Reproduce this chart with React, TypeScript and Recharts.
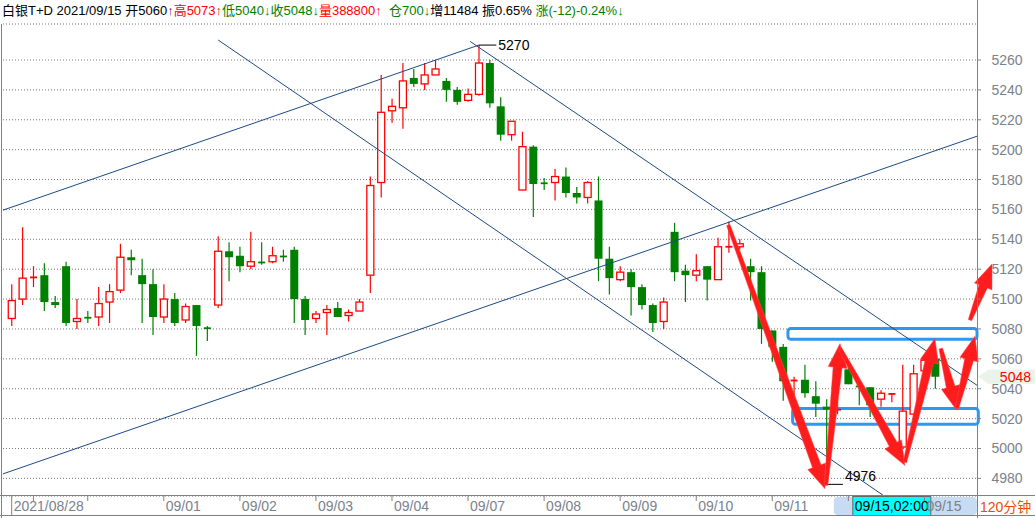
import React from 'react';
import { ComposedChart, Bar, XAxis, YAxis, CartesianGrid, ReferenceLine, ReferenceArea } from 'recharts';

// 120-minute bars, 白银T+D
const opens = [5087, 5100, 5114, 5116, 5098, 5122, 5085, 5088, 5088, 5098, 5106, 5128, 5116, 5110, 5088, 5100, 5086, 5096, 5081, 5096, 5132, 5129, 5122, 5125, 5125, 5129, 5133, 5100, 5087, 5091, 5094, 5089, 5092, 5116, 5178, 5226, 5228, 5248, 5244, 5250, 5246, 5240, 5233, 5237, 5258, 5229, 5210, 5173, 5202, 5178, 5178, 5182, 5171, 5168, 5166, 5127, 5113, 5118, 5108, 5096, 5085, 5145, 5119, 5116, 5122, 5113, 5135, 5135, 5122, 5118, 5079, 5068, 5045, 5046, 5035, 5028, 5026, 5053, 5042, 5041, 5033, 5036, 5001, 5023, 5052, 5060];
const highs = [5110, 5148, 5122, 5124, 5102, 5125, 5100, 5092, 5108, 5110, 5137, 5133, 5127, 5120, 5110, 5104, 5097, 5096, 5082, 5142, 5138, 5135, 5145, 5138, 5135, 5133, 5135, 5102, 5092, 5096, 5098, 5093, 5100, 5182, 5250, 5234, 5258, 5254, 5258, 5260, 5248, 5242, 5241, 5270, 5260, 5235, 5219, 5212, 5203, 5181, 5187, 5188, 5175, 5179, 5182, 5135, 5122, 5120, 5110, 5097, 5101, 5151, 5123, 5130, 5122, 5141, 5152, 5140, 5127, 5122, 5079, 5070, 5048, 5056, 5045, 5033, 5032, 5059, 5042, 5041, 5039, 5037, 5056, 5056, 5061, 5064];
const lows = [5082, 5096, 5108, 5092, 5094, 5082, 5080, 5084, 5082, 5084, 5104, 5116, 5084, 5076, 5084, 5082, 5084, 5062, 5072, 5094, 5112, 5118, 5120, 5123, 5124, 5125, 5084, 5076, 5084, 5076, 5088, 5085, 5092, 5104, 5168, 5218, 5214, 5242, 5240, 5250, 5232, 5230, 5232, 5236, 5228, 5206, 5206, 5173, 5155, 5173, 5166, 5168, 5164, 5164, 5112, 5103, 5112, 5089, 5093, 5078, 5080, 5112, 5098, 5112, 5099, 5113, 5131, 5133, 5099, 5070, 5058, 5032, 5032, 5034, 5021, 4976, 5023, 5043, 5029, 5021, 5028, 5031, 5000, 5020, 5052, 5040];
const closes = [5099, 5114, 5115, 5098, 5096, 5084, 5087, 5087, 5097, 5105, 5128, 5126, 5110, 5088, 5100, 5084, 5095, 5082, 5080, 5132, 5128, 5122, 5125, 5124, 5129, 5128, 5100, 5086, 5090, 5093, 5088, 5091, 5098, 5176, 5225, 5229, 5246, 5244, 5250, 5254, 5240, 5232, 5237, 5258, 5231, 5210, 5219, 5202, 5177, 5177, 5182, 5171, 5168, 5178, 5127, 5114, 5118, 5108, 5096, 5084, 5098, 5118, 5116, 5119, 5113, 5135, 5135, 5137, 5118, 5080, 5068, 5045, 5046, 5037, 5030, 5026, 5026, 5043, 5041, 5029, 5037, 5037, 5025, 5050, 5059, 5048];

const dayTicks = [0, 2, 7, 14, 21, 28, 35, 42, 49, 56, 63, 70, 77, 84];
const dayLabels = ['2021/08/28', '', '', '09/01', '09/02', '09/03', '09/04', '09/07', '09/08', '09/09', '09/10', '09/11', '', '09/15'];
const priceTicks = [4980, 5000, 5020, 5040, 5060, 5080, 5100, 5120, 5140, 5160, 5180, 5200, 5220, 5240, 5260];

// hand-drawn annotations, in (bar index, price)
const trendLines = [
  [{ x: -0.8, y: 5159.5 }, { x: 43, y: 5270 }],
  [{ x: -0.8, y: 4983 }, { x: 88.84, y: 5209 }],
  [{ x: 42.2, y: 5272.4 }, { x: 88.84, y: 5042.3 }],
  [{ x: 19, y: 5273.4 }, { x: 80.3, y: 4968.2 }],
];
const arrows = [
  [{ x: 65.95, y: 5149.5 }, { x: 74.85, y: 4973 }],
  [{ x: 74.94, y: 4975.3 }, { x: 76.23, y: 5070.2 }],
  [{ x: 76.23, y: 5067 }, { x: 82.2, y: 4988.7 }],
  [{ x: 82.2, y: 4990.7 }, { x: 84.97, y: 5073.6 }],
  [{ x: 85.5, y: 5066.9 }, { x: 86.97, y: 5025.6 }],
  [{ x: 86.99, y: 5026.9 }, { x: 88.65, y: 5075.1 }],
  [{ x: 88.19, y: 5085.9 }, { x: 90.22, y: 5123.4 }],
];
const boxes = [
  { x1: 71.44, x2: 88.84, y1: 5073.1, y2: 5080.3 },
  { x1: 71.87, x2: 88.96, y1: 5016.2, y2: 5026.7 },
];

const data = opens.map((o, i) => ({ i, o, h: highs[i], l: lows[i], c: closes[i] }));

const FONT = 'Arial, "Liberation Sans", "Noto Sans CJK SC", sans-serif';
const RED = '#ff0000';
const GREEN = '#008000';
const AXIS_GRAY = '#808080';
const LABEL_GRAY = '#7a828c';

const Candle = (props: any) => {
  const { x, y, width, height, payload } = props;
  if (x == null || y == null || !payload) return null;
  const { o, h, l, c } = payload;
  const top = Math.min(y, y + height);
  const bot = Math.max(y, y + height);
  const span = h - l || 1;
  const py = (v: number) => top + ((h - v) / span) * (bot - top);
  const cx = x + width / 2;
  const up = c >= o;
  const color = up ? RED : GREEN;
  const bt = py(Math.max(o, c));
  const bb = py(Math.min(o, c));
  const bw = 7;
  if (bb - bt < 1.5) {
    return (
      <g>
        <line x1={cx} x2={cx} y1={py(h)} y2={py(l)} stroke={color} strokeWidth={1.2} />
        <line x1={cx - bw / 2} x2={cx + bw / 2} y1={(bt + bb) / 2} y2={(bt + bb) / 2} stroke={color} strokeWidth={1.8} />
      </g>
    );
  }
  if (up) {
    return (
      <g>
        <line x1={cx} x2={cx} y1={py(h)} y2={bt} stroke={color} strokeWidth={1.2} />
        <line x1={cx} x2={cx} y1={bb} y2={py(l)} stroke={color} strokeWidth={1.2} />
        <rect x={cx - bw / 2} y={bt} width={bw} height={bb - bt} fill="#fff" stroke={color} strokeWidth={1.3} />
      </g>
    );
  }
  return (
    <g>
      <line x1={cx} x2={cx} y1={py(h)} y2={py(l)} stroke={color} strokeWidth={1.2} />
      <rect x={cx - bw / 2 - 0.5} y={bt} width={bw + 1} height={bb - bt} fill={color} />
    </g>
  );
};

const XTick = (props: any) => {
  const { x, y, payload } = props;
  const idx = dayTicks.indexOf(payload.value);
  const label = dayLabels[idx] || '';
  return (
    <g>
      <line x1={x} x2={x} y1={y} y2={idx === 0 ? y + 19 : y + 5} stroke={AXIS_GRAY} strokeWidth={1} />
      <text x={x + 2} y={y + 15} fontSize={14} fontFamily={FONT} fill={LABEL_GRAY}>{label}</text>
    </g>
  );
};

const YTick = (props: any) => {
  const { x, y, payload } = props;
  return (
    <g>
      <line x1={x} x2={x + 4} y1={y} y2={y} stroke={AXIS_GRAY} strokeWidth={1} />
      <text x={x + 30} y={y + 5} fontSize={14} fontFamily={FONT} fill={LABEL_GRAY} textAnchor="middle">{payload.value}</text>
    </g>
  );
};

const arrowShape = (p: any) => {
  const { x1, y1, x2, y2 } = p;
  if (x1 == null || y1 == null) return null;
  const dx = x2 - x1;
  const dy = y2 - y1;
  const len = Math.hypot(dx, dy) || 1;
  const ux = dx / len;
  const uy = dy / len;
  const nx = -uy;
  const ny = ux;
  const hl = 24;
  const bx = x2 - ux * hl;
  const by = y2 - uy * hl;
  const pt = (px: number, py: number) => `${px.toFixed(1)},${py.toFixed(1)}`;
  const pts = [
    pt(x1 + nx * 1.8, y1 + ny * 1.8),
    pt(bx + nx * 4.5, by + ny * 4.5),
    pt(bx + nx * 9.5, by + ny * 9.5),
    pt(x2, y2),
    pt(bx - nx * 9.5, by - ny * 9.5),
    pt(bx - nx * 4.5, by - ny * 4.5),
    pt(x1 - nx * 1.8, y1 - ny * 1.8),
  ].join(' ');
  return <polygon points={pts} fill="#ff1c1c" stroke="#ff4d4d" strokeWidth={0.5} />;
};

const markLabel = (text: string, dy: number) => (p: any) => {
  const { x1, y1, x2 } = p;
  if (x1 == null) return null;
  const left = Math.min(x1, x2);
  const right = Math.max(x1, x2);
  return (
    <g>
      <line x1={left} x2={right} y1={y1} y2={y1} stroke="#000" strokeWidth={1} />
      <text x={right + 2} y={y1 + dy} fontSize={14} fontFamily={FONT} fill="#000">{text}</text>
    </g>
  );
};

const priceTag = (p: any) => {
  const { x1, x2, y1 } = p;
  if (x2 == null) return null;
  const r = Math.max(x1, x2);
  const pts = `${r + 1},${y1} ${r + 11},${y1 - 7} 1035,${y1 - 7} 1035,${y1 + 7} ${r + 11},${y1 + 7}`;
  return (
    <g>
      <polygon points={pts} fill="#e9f3e9" />
      <text x={1031} y={y1 + 5} fontSize={14} fontFamily={FONT} fill={RED} textAnchor="end">{closes[closes.length - 1]}</text>
    </g>
  );
};

const cursorLabel = (p: any) => {
  const { x1, y1, y2 } = p;
  if (x1 == null) return null;
  const b = Math.max(y1, y2);
  return (
    <g>
      <rect x={x1 - 58} y={b + 1} width={143} height={18} rx={4} fill="#c7dbf2" />
      <rect x={x1 - 39} y={b + 0.5} width={78} height={19} fill="#00ffff" stroke="#666" strokeWidth={1} />
      <text x={x1} y={b + 15} fontSize={14} fontFamily={FONT} fill="#000" textAnchor="middle">09/15,02:00</text>
    </g>
  );
};

const Header = () => (
  <div style={{ position: 'absolute', left: 2, top: 3, fontFamily: FONT, fontSize: 13, lineHeight: '16px', whiteSpace: 'pre', color: '#000' }}>
    <span>白银T+D 2021/09/15 开5060</span>
    <span style={{ color: '#800080' }}>↑</span>
    <span style={{ color: RED }}>高5073↑</span>
    <span style={{ color: GREEN }}>低5040↓收5048↓</span>
    <span style={{ color: RED }}>量388800↑</span>
    <span style={{ color: GREEN }}>  仓700↓</span>
    <span>增11484 振0.65% </span>
    <span style={{ color: GREEN }}>涨(-12)-0.24%↓</span>
  </div>
);

export default function App() {
  return (
    <div style={{ position: 'absolute', left: 0, top: 0, width: 1035, height: 518, background: '#fff', overflow: 'hidden' }}>
      <Header />
      <ComposedChart width={1035} height={518} data={data} margin={{ top: 24, right: 0, bottom: 0, left: 3 }}>
        <CartesianGrid vertical={false} stroke="#777" strokeDasharray="1 2" />
        <XAxis
          dataKey="i"
          type="number"
          domain={[-0.8, 88.84]}
          allowDataOverflow
          ticks={dayTicks}
          interval={0}
          height={22}
          tickSize={0}
          tickMargin={0}
          axisLine={false}
          tickLine={false}
          tick={<XTick />}
        />
        <YAxis
          orientation="right"
          type="number"
          domain={[4968.2, 5284.1]}
          allowDataOverflow
          ticks={priceTicks}
          interval={0}
          width={58}
          tickSize={0}
          tickMargin={0}
          axisLine={false}
          tickLine={false}
          tick={<YTick />}
        />
        <Bar dataKey={(d: any) => [d.l, d.h]} barSize={7} shape={(p: any) => <Candle {...p} />} isAnimationActive={false} />
        {trendLines.map((seg, k) => (
          <ReferenceLine key={`t${k}`} segment={seg} stroke="#1b4a86" strokeWidth={1} ifOverflow="hidden" />
        ))}
        <ReferenceLine segment={[{ x: 43, y: 5270 }, { x: 44.6, y: 5270 }]} ifOverflow="visible" shape={markLabel('5270', 5)} />
        <ReferenceLine segment={[{ x: 75, y: 4976 }, { x: 76.5, y: 4976 }]} ifOverflow="visible" shape={markLabel('4976', -3)} />
        {boxes.map((b, k) => (
          <ReferenceArea
            key={`b${k}`}
            x1={b.x1}
            x2={b.x2}
            y1={b.y1}
            y2={b.y2}
            ifOverflow="visible"
            shape={(p: any) => (
              <rect x={p.x} y={p.y} width={p.width} height={p.height} rx={3} fill="none" stroke="#2f97ee" strokeWidth={3} />
            )}
          />
        ))}
        {arrows.map((seg, k) => (
          <ReferenceLine key={`a${k}`} segment={seg} ifOverflow="visible" shape={arrowShape} />
        ))}
        <ReferenceLine y={closes[closes.length - 1]} ifOverflow="visible" shape={priceTag} />
        <ReferenceLine x={81} ifOverflow="visible" shape={cursorLabel} />
      </ComposedChart>
      <svg width={1035} height={518} style={{ position: 'absolute', left: 0, top: 0, pointerEvents: 'none' }}>
        <line x1={1.5} x2={1.5} y1={24} y2={518} stroke={AXIS_GRAY} />
        <line x1={977.5} x2={977.5} y1={0} y2={518} stroke={AXIS_GRAY} />
        <line x1={0} x2={1035} y1={495.5} y2={495.5} stroke={AXIS_GRAY} />
        <line x1={0} x2={1035} y1={515.5} y2={515.5} stroke={AXIS_GRAY} />
        <text x={980} y={512} fontSize={14} fontFamily={FONT} fill="#f04a00">120分钟</text>
      </svg>
    </div>
  );
}
